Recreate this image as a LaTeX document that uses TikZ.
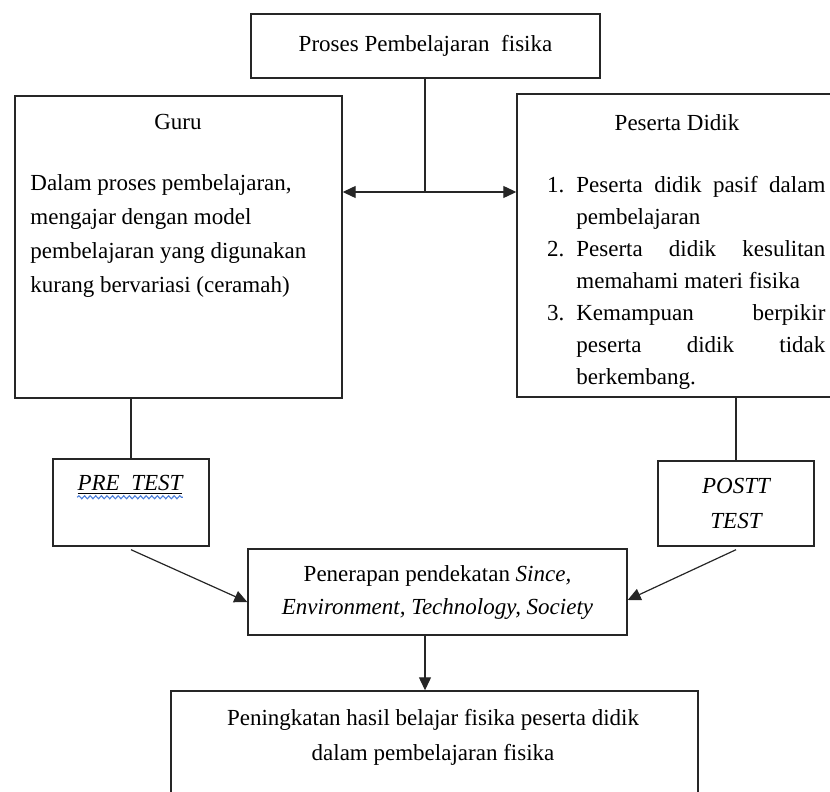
\documentclass[tikz,border=0pt]{standalone}
\usepackage{fontspec}
\setmainfont{Liberation Serif}
\usetikzlibrary{arrows.meta,positioning,decorations.pathmorphing}
\definecolor{spellblue}{HTML}{4C7FD9}

\begin{document}
\begin{tikzpicture}[
  x=0.5pt,y=-0.5pt,
  font=\fontsize{11.5}{17}\selectfont,
  line cap=butt,line join=miter,
  box/.style={draw=black!85,line width=.7pt,inner sep=0pt},
  txt/.style={inner sep=0pt,align=center},
  arrow/.style={-{Triangle[length=6.5pt,width=6pt]},line width=.6pt,draw=black!85},
  link/.style={line width=.6pt,draw=black!85}
]
\useasboundingbox (0,0) rectangle (830,792);

% Top process
\node[box,minimum width=174.5pt,minimum height=32pt] (proses) at (425.5,46)
  {Proses Pembelajaran\ \ fisika};

% Teacher
\node[box,minimum width=163.5pt,minimum height=151pt] (guru) at (178.5,247) {};
\node[txt,anchor=north] (guruhead) at (178,114) {Guru};
\node[txt,anchor=north west,align=left] (gurutext) at (30,174)
  {Dalam proses pembelajaran,\\mengajar dengan model\\pembelajaran yang digunakan\\kurang bervariasi (ceramah)};

% Students
\node[box,minimum width=160pt,minimum height=151.5pt] (peserta) at (677,245.5) {};
\node[txt,anchor=north] (pesertahead) at (677,114) {Peserta Didik};
\node[txt,anchor=north west,text width=124.5pt,align=justify,font=\fontsize{11.5}{16}\selectfont] (pesertalist) at (576,176)
  {\makebox[0pt][r]{1.\hspace{6pt}}Peserta didik pasif dalam\linebreak pembelajaran\par
   \makebox[0pt][r]{2.\hspace{6pt}}Peserta didik kesulitan\linebreak memahami materi fisika\par
   \makebox[0pt][r]{3.\hspace{6pt}}Kemampuan berpikir\linebreak peserta didik tidak\linebreak berkembang.\par};

% Tests
\node[box,minimum width=78pt,minimum height=43.5pt] (pretest) at (131,502.5) {};
\node[txt,anchor=north,font=\fontsize{11.5}{17}\selectfont\itshape] (pretesttext) at (130,475)
  {\underline{PRE\ \ TEST}};
\draw[spellblue,line width=.55pt,decorate,decoration={snake,amplitude=.75pt,segment length=2.8pt}]
  ([yshift=-1pt]pretesttext.south west) -- ([yshift=-1pt]pretesttext.south east);

\node[box,minimum width=78pt,minimum height=42.5pt] (posttest) at (736,503.5) {};
\node[txt,font=\fontsize{11.5}{17.5}\selectfont\itshape] (posttesttext) at (736,503)
  {POSTT\\TEST};

% Approach
\node[box,minimum width=189.5pt,minimum height=43pt,align=center,font=\fontsize{11.5}{16.5}\selectfont] (penerapan) at (437.5,592)
  {Penerapan pendekatan \textit{Since,}\\\textit{Environment, Technology, Society}};

% Outcome
\node[box,minimum width=263.5pt,minimum height=56pt] (hasil) at (434.5,747) {};
\node[txt,anchor=north,font=\fontsize{11.5}{17.5}\selectfont] (hasiltext) at (433,709)
  {Peningkatan hasil belajar fisika peserta didik\\dalam pembelajaran fisika};

% Connectors
\coordinate (hub) at (425,192);
\draw[link] (proses.south -| hub) -- (hub);
\draw[arrow] (hub) -- (guru.east |- hub);
\draw[arrow] (hub) -- (peserta.west |- hub);
\draw[link] (pretest.north) -- (pretest.north |- guru.south);
\draw[link] (posttest.north) -- (posttest.north |- peserta.south);
\draw[arrow] ([yshift=-1.5pt]pretest.south) -- ([yshift=-5pt]penerapan.west);
\draw[arrow] ([yshift=-1.5pt]posttest.south) -- ([yshift=-4pt]penerapan.east);
\draw[arrow] (penerapan.south -| hub) -- (hasil.north -| hub);
\end{tikzpicture}
\end{document}
